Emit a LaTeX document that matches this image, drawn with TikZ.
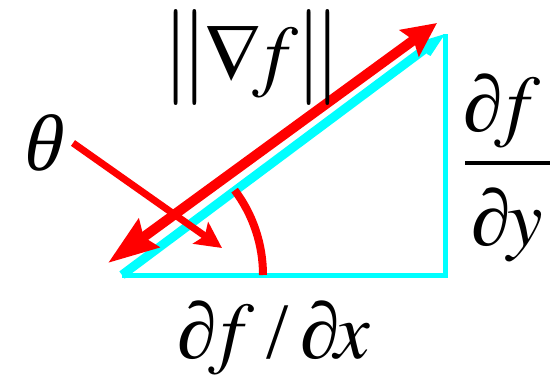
\documentclass[tikz,border=0pt]{standalone}
\usepackage{mathptmx}
\usepackage[no-math]{fontspec}
\newfontfamily\tnr{Liberation Serif}
\newfontfamily\tnrs{Liberation Serif}[FakeSlant=0.22]
\usepackage{graphicx}
\usetikzlibrary{arrows.meta}
\definecolor{aqua}{RGB}{0,255,255}
\definecolor{pred}{RGB}{255,0,0}
\newcommand{\dbar}{\scalebox{1.2}[1.2]{$\|$}}
\tikzset{
  cyanline/.style={draw=aqua, line width=5pt},
  cyanhyp/.style={draw=aqua, line width=9pt, -{Stealth[length=50pt,width=36pt,inset=32pt,fill=aqua]}},
  redgrad/.style={draw=pred, line width=10pt, {Stealth[length=50pt,width=34pt,inset=6pt]}-{Stealth[length=34pt,width=32pt,inset=5pt]}},
  redtheta/.style={draw=pred, line width=7pt, -{Stealth[length=26pt,width=26pt,inset=5pt]}},
  redarc/.style={draw=pred, line width=8pt},
  big/.style={font=\fontsize{80}{96}\selectfont\tnr, inner sep=0pt}
}
\begin{document}
\begin{tikzpicture}[x=1pt,y=-1pt]
\useasboundingbox (0,0) rectangle (550,378);
\fill[white] (0,0) rectangle (550,378);
\coordinate (A) at (122,275);
\coordinate (B) at (445,275);
\coordinate (C) at (445,34);
\coordinate (R1) at (108,263);
\coordinate (R2) at (437,23);
\coordinate (T1) at (73,143);
\coordinate (T2) at (222,248);
\draw[cyanline] (A) -- (B) -- (C);
\draw[cyanhyp] (A) -- (C);
\draw[redgrad] (R1) -- (R2);
\draw[redtheta] (T1) -- (T2);
\draw[redarc] (263,275) arc[start angle=0, end angle=-37, radius=141];
\node[big, anchor=base] (theta) at (40,170) {\tnrs θ};
\node[big, anchor=base] (grad) at (252,81) {\dbar\kern-5pt$\nabla\! f$\kern-4pt\dbar};
\node[big, anchor=base] (fynum) at (502,131) {∂\kern-9pt$f$};
\node[big, anchor=base] (fyden) at (507,245) {∂\kern-4pt$y$};
\coordinate (barL) at (465,163);
\coordinate (barR) at (556,163);
\draw[line width=4pt] (barL) -- (barR);
\node[big, anchor=base] (fx) at (274,358) {∂\kern-9pt$f$\kern13pt/\kern11pt∂\kern-5pt$x$};
\end{tikzpicture}
\end{document}
